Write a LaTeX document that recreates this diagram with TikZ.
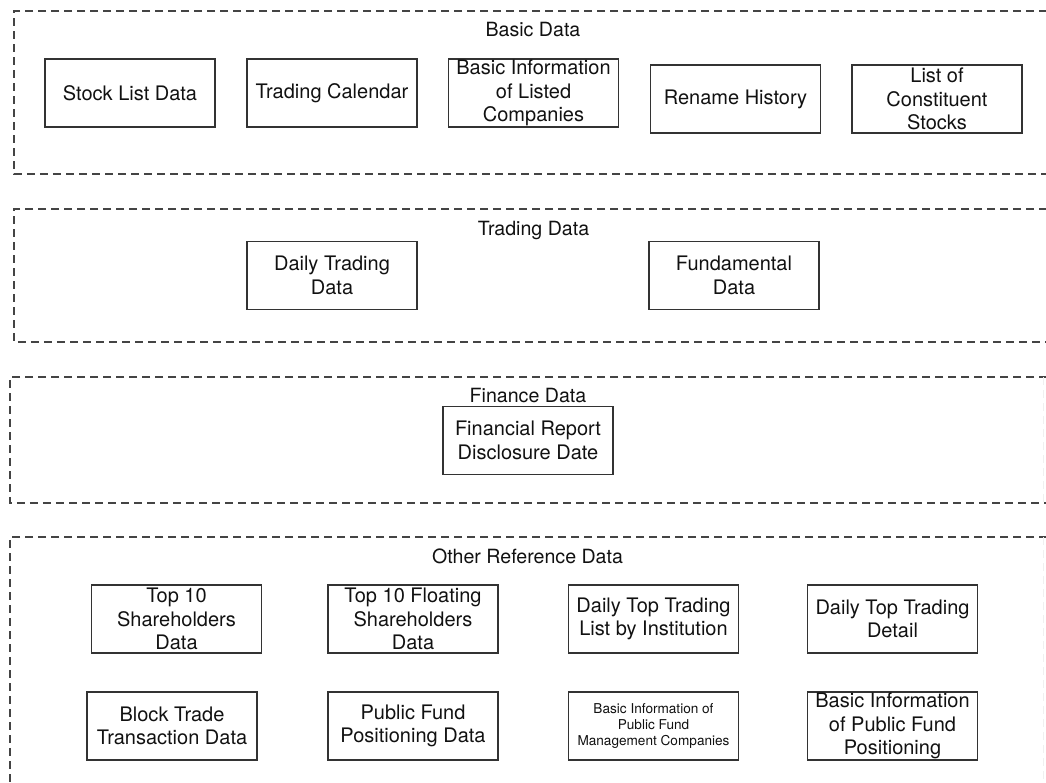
\documentclass[tikz,border=0pt]{standalone}
\usepackage{fontspec}
\setmainfont{TeX Gyre Heros}
\definecolor{boxc}{HTML}{333333}
\definecolor{grpc}{HTML}{444444}
\definecolor{txt}{HTML}{111111}
\begin{document}
\begin{tikzpicture}[x=1pt,y=-1pt,
  box/.style={draw=boxc, line width=1.5pt, minimum width=170pt, minimum height=68pt,
    inner sep=0pt, align=center, text=txt, font=\fontsize{20}{23.3}\selectfont},
  smallbox/.style={box, font=\fontsize{13.6}{15.6}\selectfont},
  grp/.style={draw=grpc, line width=1.6pt, dash pattern=on 8pt off 5pt},
  faintedge/.style={draw=gray!12, line width=1pt, dash pattern=on 8pt off 5pt},
  glabel/.style={anchor=base, text=txt, font=\fontsize{19.6}{23}\selectfont}]
\useasboundingbox (0,0) rectangle (1046,782);
\clip (0,0) rectangle (1046,782);

% group frames
\draw[grp] (1060,11) -- (14,11) -- (14,174) -- (1060,174);
\draw[grp] (1060,209) -- (14,209) -- (14,342) -- (1060,342);
\draw[grp] (1060,377) -- (10,377) -- (10,503) -- (1060,503);
\draw[grp] (1060,537) -- (10,537) -- (10,800);
\draw[faintedge] (1043,377) -- (1043,503);
\draw[faintedge] (1043,537) -- (1043,790);

% group labels
\node[glabel] (lbasic) at (533,36) {Basic Data};
\node[glabel] (ltrade) at (533.5,235) {Trading Data};
\node[glabel] (lfin) at (528,402) {Finance Data};
\node[glabel] (lother) at (527.5,563) {Other Reference Data};

% Basic Data
\node[box] (stock) at (130,93) {Stock List Data};
\node[box] (cal) at (332,93) {Trading Calendar};
\node[box] (binfo) at (533.5,93) {Basic Information\\of Listed\\Companies};
\node[box] (rename) at (735.5,99) {Rename History};
\node[box] (const) at (937,99) {List of\\Constituent\\Stocks};

% Trading Data
\node[box] (daily) at (332,275.5) {Daily Trading\\Data};
\node[box] (fund) at (734,275.5) {Fundamental\\Data};

% Finance Data
\node[box] (finrep) at (528,440.5) {Financial Report\\Disclosure Date};

% Other Reference Data
\node[box] (top10) at (176.5,619) {Top 10\\Shareholders\\Data};
\node[box] (float) at (413,619) {Top 10 Floating\\Shareholders\\Data};
\node[box] (dtl) at (653.5,619) {Daily Top Trading\\List by Institution};
\node[box] (dtd) at (892.5,619) {Daily Top Trading\\Detail};
\node[box] (block) at (172,726) {Block Trade\\Transaction Data};
\node[box] (pubfund) at (413,726) {Public Fund\\Positioning Data};
\node[smallbox] (mgmt) at (653.5,726) {Basic Information of\\Public Fund\\Management Companies};
\node[box] (posit) at (892.5,726) {Basic Information\\of Public Fund\\Positioning};
\end{tikzpicture}
\end{document}
